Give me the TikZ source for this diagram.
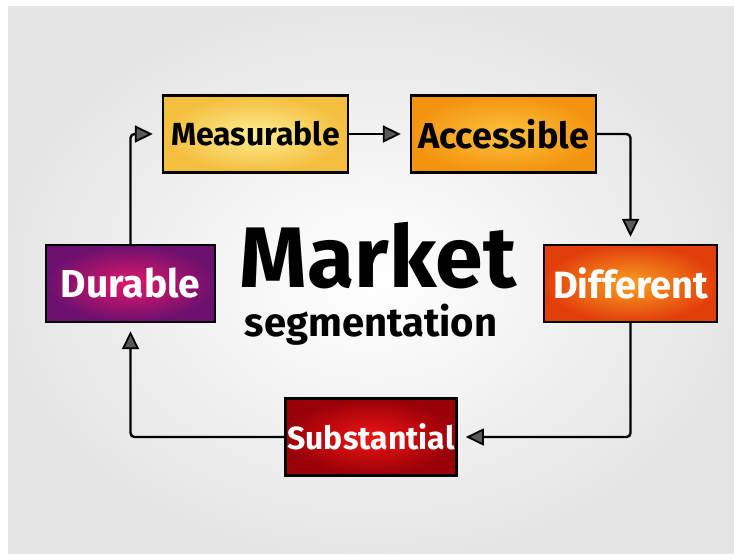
\documentclass[tikz,border=0pt]{standalone}
\usepackage{fontspec}
\setmainfont{Fira Sans}
\usepackage{tikz}
\usetikzlibrary{positioning,arrows.meta}

\definecolor{measout}{HTML}{F4BE3E}
\definecolor{measin}{HTML}{FDEE92}
\definecolor{accout}{HTML}{F39410}
\definecolor{accin}{HTML}{FDC240}
\definecolor{difout}{HTML}{E23E0C}
\definecolor{difin}{HTML}{F9A020}
\definecolor{durout}{HTML}{6C106E}
\definecolor{durin}{HTML}{E0186C}
\definecolor{subout}{HTML}{980008}
\definecolor{subin}{HTML}{F01414}

\newcommand{\boxfont}[1]{\bfseries\fontsize{#1}{#1}\selectfont}

\begin{document}
\begin{tikzpicture}[x=1pt,y=-1pt,line width=2.4pt,rounded corners=4pt]
  \tikzstyle{step box}=[draw,line width=2.4pt,rounded corners=0pt,inner xsep=2pt,minimum height=77pt]
  \tikzstyle{flow}=[-{Triangle[length=18pt,width=17pt,line width=1.8pt,fill=black!65]}]

  % backdrop
  \fill[white] (0,0) rectangle (734,555);
  \shade[inner color=white,outer color=black!10,rounded corners=0pt] (8,6) rectangle (734,553);

  \node[step box,minimum width=185pt,inner color=measin,outer color=measout,font=\boxfont{32}] (meas) at (255.5,134) {Measurable};
  \node[step box,minimum width=185pt,inner color=accin,outer color=accout,font=\boxfont{36}] (acc) at (503.5,134) {Accessible};
  \node[step box,minimum width=173pt,inner color=difin,outer color=difout,text=white,font=\boxfont{38}] (diff) at (630.5,283.5) {Different};
  \node[step box,minimum width=168pt,inner color=subin,outer color=subout,text=white,font=\boxfont{32}] (subs) at (371,437) {Substantial};
  \node[step box,minimum width=169pt,inner color=durin,outer color=durout,text=white,font=\boxfont{39}] (dur) at (130.5,283.5) {Durable};

  \node[font=\boxfont{86}] (title) at (378,256) {Market};
  \node[font=\boxfont{40}] (sub) at (371,325) {segmentation};

  \draw[flow,shorten >=9pt] (meas) -- (acc);
  \draw[flow,shorten >=7pt] (acc.east) -| (diff.north);
  \draw[flow,shorten >=8pt] (diff.south) |- (subs.east);
  \draw[flow,shorten >=8pt] (subs.west) -| (dur.south);
  \draw[flow,shorten >=9pt] (dur.north) |- (meas.west);

\end{tikzpicture}
\end{document}
